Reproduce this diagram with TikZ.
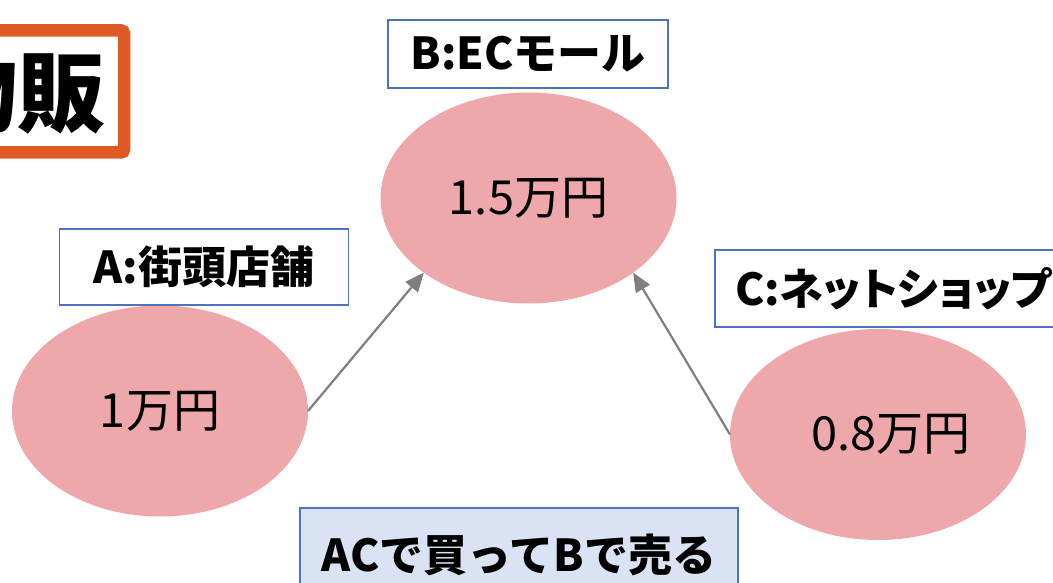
\documentclass[tikz,border=0pt]{standalone}
\usepackage{fontspec}
\setmainfont{Noto Sans CJK JP}
\usetikzlibrary{shapes.geometric,arrows.meta}
\definecolor{titleorange}{RGB}{222,89,36}
\definecolor{boxblue}{RGB}{79,114,190}
\definecolor{pinkfill}{RGB}{238,167,170}
\definecolor{notefill}{RGB}{218,227,243}
\definecolor{arrowgray}{RGB}{127,127,127}
\begin{document}
\begin{tikzpicture}[x=1pt,y=-1pt,
  labelbox/.style={draw=boxblue, line width=1.8pt, fill=white, font=\fontsize{44}{50}\selectfont\bfseries, inner sep=0pt, outer sep=0pt},
  price/.style={ellipse, fill=pinkfill, inner sep=0pt, outer sep=0pt, minimum width=296pt, minimum height=211pt, font=\fontsize{47}{50}\selectfont},
  link/.style={draw=arrowgray, line width=2.2pt, -{Triangle[length=19pt,width=16pt]}},
  titleframe/.style={draw=titleorange, line width=12.5pt, rounded corners=3pt}]
\useasboundingbox (0,0) rectangle (1053,583);
% title frame (cut off at left)
\draw[titleframe] (-120,30.5) rectangle (124,152.5);
\node[font=\fontsize{88}{90}\selectfont\bfseries, inner sep=0pt, anchor=east] (title) at (106,92) {物販};
% ellipses
\node[price] (B) at (528.5,198) {1.5万円};
\node[price] (A) at (160,411) {1万円};
\node[price] (C) at (878,434.5) {\hspace*{26pt}0.8万円};
% labels
\node[labelbox, minimum width=280pt, minimum height=68pt] (Blab) at (528,54) {B:ECモール};
\node[labelbox, minimum width=289pt, minimum height=76pt] (Alab) at (204,267) {A:街頭店舗};
\node[labelbox, minimum width=348pt, minimum height=77pt, anchor=north west] (Clab) at (715,250) {};
\node[font=\fontsize{44}{50}\selectfont\bfseries\addfontfeature{RawFeature=+palt}, inner sep=0pt, anchor=west] (Ctext) at (735,288.5) {C:ネットショップ};
\node[labelbox, fill=notefill, minimum width=438pt, minimum height=93pt, anchor=north west] (note) at (300,508) {ACで買ってBで売る};
% arrows
\draw[link] (A.east) -- (B.south west);
\draw[link] (C.west) -- (B.south east);
\end{tikzpicture}
\end{document}
